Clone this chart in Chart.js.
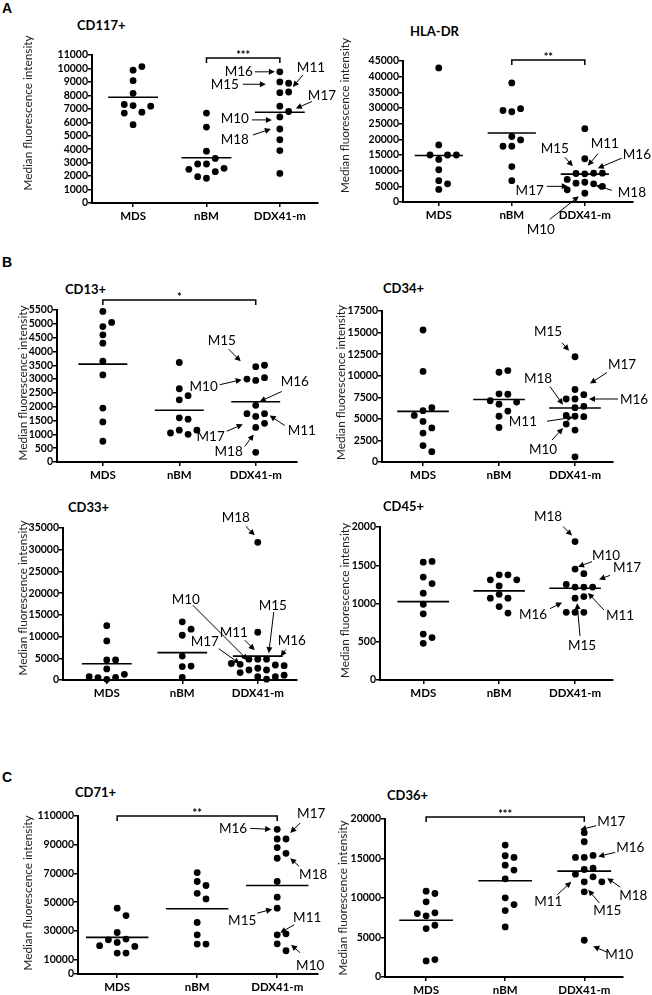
<!DOCTYPE html>
<html>
<head>
<meta charset="utf-8">
<script src="https://cdn.jsdelivr.net/npm/chart.js@4.4.1/dist/chart.umd.min.js"></script>
<style>
  body { margin: 0; background: #fff; }
  #page { position: relative; width: 652px; height: 995px; overflow: hidden; }
  #page canvas { position: absolute; }
  .letter { position: absolute; font: bold 14px "Liberation Sans", Arial, sans-serif; line-height: 16px; color: #000; }
  .ptitle { position: absolute; font: bold 13px Lato, sans-serif; line-height: 16px; color: #000; }
</style>
</head>
<body>
<div id="page">
  <div class="letter" style="left:2px;top:0px">A</div>
  <div class="letter" style="left:2px;top:254px">B</div>
  <div class="letter" style="left:2px;top:769px">C</div>
</div>
<script>
"use strict";

// Data
const groups = ["MDS", "nBM", "DDX41-m"];

const cd117Mds = [9870, 10140, 9090, 8150, 7240, 6750, 6680, 7200, 7320, 5820];
const cd117Nbm = [6680, 5640, 3850, 3310, 2900, 2900, 2330, 2580, 2500, 1840, 1960];
const cd117Ddx = [9750, 9000, 8200, 8250, 8900, 7200, 6800, 6400, 5500, 4700, 3900, 2200];
const cd117Means = [7860, 3360, 6750];
const cd117Ticks = [0, 1000, 2000, 3000, 4000, 5000, 6000, 7000, 8000, 9000, 10000, 11000];

const hlaMds = [42800, 18200, 13600, 15000, 15000, 15000, 10300, 6800, 4000, 5800];
const hlaNbm = [38000, 28800, 29800, 29200, 20900, 19800, 17800, 17800, 11300, 6800];
const hlaDdx = [23400, 13800, 9000, 9200, 9100, 9200, 7200, 6300, 5800, 6000, 5000, 3900, 2800];
const hlaMeans = [14850, 22000, 8900];
const hlaTicks = [0, 5000, 10000, 15000, 20000, 25000, 30000, 35000, 40000, 45000];

const cd13Mds = [5450, 4900, 5050, 4300, 4600, 3650, 3150, 1950, 1450, 750];
const cd13Nbm = [3600, 2650, 2400, 2250, 1600, 1550, 1150, 1000, 1050, 1150];
const cd13Ddx = [3450, 3500, 2950, 3050, 3000, 2050, 1650, 1750, 1750, 1400, 1250, 350];
const cd13Means = [3540, 1870, 2180];
const cd13Ticks = [0, 500, 1000, 1500, 2000, 2500, 3000, 3500, 4000, 4500, 5000, 5500];

const cd34Mds = [15300, 10500, 5950, 6300, 5400, 4700, 3950, 3350, 1900, 1200];
const cd34Nbm = [10400, 10600, 7900, 7850, 6700, 7100, 6950, 5900, 5300, 4000];
const cd34Ddx = [12200, 8400, 7800, 7300, 7300, 6450, 6300, 5300, 5250, 5400, 4400, 3700, 600];
const cd34Means = [5870, 7250, 6260];
const cd34Ticks = [0, 2500, 5000, 7500, 10000, 12500, 15000, 17500];

const cd33Mds = [12500, 9000, 2550, 4600, 4600, 150, 600, 550, 1300, 770];
const cd33Nbm = [13400, 11700, 10300, 5500, 3100, 3200, 600];
const cd33Ddx = [31700, 11000, 4800, 4800, 4800, 3450, 3600, 3300, 3800, 2700, 2300, 2300, 1700, 750, 750, 1100, 200];
const cd33Means = [3750, 6300, 5500];
const cd33Ticks = [0, 5000, 10000, 15000, 20000, 25000, 30000, 35000];

const cd45Mds = [1540, 1550, 1345, 1260, 1135, 990, 865, 600, 555, 480];
const cd45Nbm = [1375, 1375, 1310, 1310, 1230, 1120, 1070, 1070, 960, 875];
const cd45Ddx = [1810, 1450, 1390, 1215, 1215, 1250, 1215, 1070, 1090, 885, 885, 885];
const cd45Means = [1025, 1165, 1200];
const cd45Ticks = [0, 500, 1000, 1500, 2000];

const cd71Mds = [45800, 40700, 28900, 22000, 24300, 23800, 19200, 19700, 14600, 14600];
const cd71Nbm = [70600, 64400, 61600, 56200, 52300, 35900, 27300, 20800, 20800];
const cd71Ddx = [100700, 94000, 94000, 88000, 80600, 84000, 64400, 53500, 45800, 27300, 28000, 21000, 16200];
const cd71Means = [25500, 45400, 61600];
const cd71Ticks = [0, 10000, 30000, 50000, 70000, 90000, 110000];

const cd36Mds = [10870, 10570, 9510, 7740, 8120, 8030, 6130, 6550, 2030, 2200];
const cd36Nbm = [16700, 15350, 15140, 14160, 13530, 12430, 10020, 9170, 8410, 6340];
const cd36Ddx = [18270, 17120, 15140, 15390, 15140, 13610, 13780, 13020, 12680, 12050, 12050, 10780, 4650];
const cd36Means = [7190, 12180, 13400];
const cd36Ticks = [0, 5000, 10000, 15000, 20000];

// Callouts on the DDX41-m column: [label, anchor value, tail dx, dy, tip dx, dy, text dx, dy, align]
const cd117Callouts = [
    ["M16", 9750, -25, 0, -5, 0, -27, 0, "right"],
    ["M15", 8900, -37, 1, -14, 1, -41, 1, "right"],
    ["M11", 8250, 23, -17, 13, -5, 17, -24, "left"],
    ["M17", 6800, 32, -10, 16, -3, 28, -16, "left"],
    ["M10", 6400, -28, 3, -8, 3, -31, 2, "right"],
    ["M18", 5500, -27, 6, -9, 0, -31, 11, "right"]
];
const hlaCallouts = [
    ["M15", 9200, -20, -16, -12, -7, -30, -25, "center"],
    ["M11", 9000, 13, -20, 3, -8, 20, -30, "center"],
    ["M16", 9200, 37, -15, 13, -5, 38, -19, "left"],
    ["M17", 5000, -38, 0, -17, 0, -41, 4, "right"],
    ["M18", 5000, 27, 4, 11, -1, 33, 6, "left"],
    ["M10", 5000, -35, 33, -6, 10, -44, 43, "center"]
];
const cd13Callouts = [
    ["M15", 3500, -27, -16, -15, -4, -34, -25, "center"],
    ["M10", 3050, -36, 7, -14, 2, -38, 9, "right"],
    ["M16", 2080, 26, -13, 4, -3, 39, -23, "center"],
    ["M11", 1790, 29, 13, 14, 3, 32, 18, "left"],
    ["M17", 1400, -29, 8, -13, 1, -31, 13, "right"],
    ["M18", 1250, -11, 19, -2, 7, -13, 24, "right"]
];
const cd34Callouts = [
    ["M15", 12200, -13, -14, -6, -6, -27, -25, "center"],
    ["M17", 8400, 32, -17, 15, -6, 47, -25, "center"],
    ["M18", 6300, -25, -21, -12, -3, -37, -29, "center"],
    ["M16", 7300, 43, 0, 14, 0, 45, 1, "left"],
    ["M11", 5300, -28, 5, -2, 1, -38, 5, "right"],
    ["M10", 4400, -23, 16, -12, 4, -32, 26, "center"]
];
const cd33Callouts = [
    ["M18", 31700, -12, -16, -3, -7, -22, -25, "center"],
    ["M10", 4800, -65, -54, -10, 1, -72, -60, "center"],
    ["M15", 4800, 16, -47, 11, -6, 15, -54, "center"],
    ["M11", 4800, -13, -19, -3, -9, -24, -27, "center"],
    ["M17", 3300, -39, -17, -18, -2, -53, -24, "center"],
    ["M16", 3800, 28, -14, 23, -7, 34, -23, "center"]
];
const cd45Callouts = [
    ["M18", 1810, -12, -15, -3, -6, -27, -25, "center"],
    ["M10", 1390, 17, -12, 3, -7, 31, -18, "center"],
    ["M17", 1250, 35, -9, 24, -5, 52, -17, "center"],
    ["M11", 1215, 29, 23, 13, 6, 45, 29, "center"],
    ["M16", 1090, -25, 12, -13, 6, -42, 18, "center"],
    ["M15", 1070, 5, 38, 2, 5, 7, 47, "center"]
];
const cd71Callouts = [
    ["M16", 100700, -27, -1, -6, 0, -30, -1, "right"],
    ["M17", 94000, 23, -16, 13, -6, 34, -25, "center"],
    ["M18", 84000, 22, 13, 13, 5, 36, 21, "center"],
    ["M15", 45800, -20, 5, -5, 1, -35, 12, "center"],
    ["M11", 27300, 17, -10, 3, -2, 30, -17, "center"],
    ["M10", 21000, 23, 9, 14, 1, 33, 22, "center"]
];
const cd36Callouts = [
    ["M17", 18270, 12, -7, -4, -3, 13, -11, "left"],
    ["M16", 15140, 31, -5, 14, -1, 46, -10, "center"],
    ["M11", 12680, -27, 18, -13, 5, -36, 25, "center"],
    ["M18", 13020, 36, 13, 23, 4, 49, 21, "center"],
    ["M15", 10780, 15, 11, 4, -2, 23, 19, "center"],
    ["M10", 4650, 23, 12, 9, 6, 35, 14, "center"]
];

// Panel layout: area = chart area [l, t, r, b], box = canvas [l, t, r, b] (page px)
const panels = [
    { title: "CD117+", tpos: [77, 25], area: [92, 55, 318, 203], box: [20, 0, 350, 240], xr: [-0.56, 2.52], yTitleX: 28, yShift: -16,
      sets: [cd117Mds, cd117Nbm, cd117Ddx], means: cd117Means, ticks: cd117Ticks, half: 0.34, callouts: cd117Callouts, bracket: [1, 2, "***", 3] },
    { title: "HLA-DR", tpos: [410, 31], area: [403, 61, 633, 202], box: [337, 0, 652, 245], xr: [-0.49, 2.66], yTitleX: 345, yShift: -16,
      sets: [hlaMds, hlaNbm, hlaDdx], means: hlaMeans, ticks: hlaTicks, half: 0.33, callouts: hlaCallouts, bracket: [1, 2, "**", -1] },
    { title: "CD13+", tpos: [65, 289], area: [57, 310, 297, 462], box: [15, 255, 330, 490], xr: [-0.6, 2.54], yTitleX: 23, yShift: -3,
      sets: [cd13Mds, cd13Nbm, cd13Ddx], means: cd13Means, ticks: cd13Ticks, half: 0.32, callouts: cd13Callouts, bracket: [0, 2, "*", -10] },
    { title: "CD34+", tpos: [383, 288], area: [382, 311, 613, 462], box: [332, 255, 652, 490], xr: [-0.54, 2.5], yTitleX: 341, yShift: -4,
      sets: [cd34Mds, cd34Nbm, cd34Ddx], means: cd34Means, ticks: cd34Ticks, half: 0.34, callouts: cd34Callouts, bracket: null },
    { title: "CD33+", tpos: [68, 507], area: [63, 528, 297, 680], box: [15, 495, 330, 710], xr: [-0.58, 2.52], yTitleX: 23, yShift: -6,
      sets: [cd33Mds, cd33Nbm, cd33Ddx], means: cd33Means, ticks: cd33Ticks, half: 0.33, callouts: cd33Callouts, bracket: null },
    { title: "CD45+", tpos: [383, 506], area: [380, 527, 613, 680], box: [337, 495, 652, 710], xr: [-0.57, 2.5], yTitleX: 345, yShift: -3,
      sets: [cd45Mds, cd45Nbm, cd45Ddx], means: cd45Means, ticks: cd45Ticks, half: 0.34, callouts: cd45Callouts, bracket: null },
    { title: "CD71+", tpos: [75, 792], area: [78, 816, 318, 974], box: [20, 770, 345, 995], xr: [-0.49, 2.51], yTitleX: 28, yShift: -2,
      sets: [cd71Mds, cd71Nbm, cd71Ddx], means: cd71Means, ticks: cd71Ticks, half: 0.39, callouts: cd71Callouts, bracket: [0, 2, "**", 0] },
    { title: "CD36+", tpos: [387, 795], area: [385, 819, 623, 977], box: [335, 770, 652, 995], xr: [-0.52, 2.49], yTitleX: 343, yShift: 0,
      sets: [cd36Mds, cd36Nbm, cd36Ddx], means: cd36Means, ticks: cd36Ticks, half: 0.34, callouts: cd36Callouts, bracket: [0, 2, "***", -2] }
];

const STEP = 8.8;   // horizontal slot between dots, px
const GAP = 8;      // vertical distance below which two dots collide, px

Chart.defaults.font.family = "Lato, sans-serif";
Chart.defaults.color = "#000";

function drawArrow(ctx, x1, y1, x2, y2) {
    const a = Math.atan2(y2 - y1, x2 - x1);
    const len = 6, w = 3;
    ctx.beginPath();
    ctx.moveTo(x1, y1);
    ctx.lineTo(x2 - Math.cos(a) * len * 0.8, y2 - Math.sin(a) * len * 0.8);
    ctx.stroke();
    ctx.beginPath();
    ctx.moveTo(x2, y2);
    ctx.lineTo(x2 - Math.cos(a) * len + Math.sin(a) * w, y2 - Math.sin(a) * len - Math.cos(a) * w);
    ctx.lineTo(x2 - Math.cos(a) * len - Math.sin(a) * w, y2 - Math.sin(a) * len + Math.cos(a) * w);
    ctx.closePath();
    ctx.fill();
}

// Decorations: y title, significance bracket, callout arrows
const decor = {
    id: "decor",
    afterDatasetsDraw(chart, args, opts) {
        const p = opts.panel;
        const ctx = chart.ctx;
        const xs = chart.scales.x, ys = chart.scales.y;
        const area = chart.chartArea;

        ctx.save();
        ctx.fillStyle = "#222";
        ctx.translate(p.yTitleX - p.box[0], (area.top + area.bottom) / 2 + p.yShift);
        ctx.rotate(-Math.PI / 2);
        ctx.font = "11.8px Lato";
        ctx.textAlign = "center";
        ctx.textBaseline = "middle";
        ctx.fillText("Median fluorescence intensity", 0, 0);
        ctx.restore();

        ctx.save();
        ctx.strokeStyle = "#000";
        ctx.fillStyle = "#000";
        if (p.bracket) {
            const [g1, g2, stars, dy] = p.bracket;
            const x1 = xs.getPixelForValue(g1), x2 = xs.getPixelForValue(g2);
            const y = area.top + dy;
            ctx.lineWidth = 1.5;
            ctx.beginPath();
            ctx.moveTo(x1, y + 5);
            ctx.lineTo(x1, y);
            ctx.lineTo(x2, y);
            ctx.lineTo(x2, y + 5);
            ctx.stroke();
            ctx.font = "bold 11px Lato";
            ctx.textAlign = "center";
            ctx.textBaseline = "alphabetic";
            ctx.fillText(stars, (x1 + x2) / 2, y + 1);
        }

        const cx = xs.getPixelForValue(2);
        ctx.lineWidth = 1;
        p.callouts.forEach(([text, v, tx, ty, hx, hy, lx, ly, align]) => {
            const y0 = ys.getPixelForValue(v);
            drawArrow(ctx, cx + tx, y0 + ty, cx + hx, y0 + hy);
            ctx.font = "13.5px Lato";
            ctx.textAlign = align;
            ctx.textBaseline = "middle";
            ctx.fillText(text, cx + lx, y0 + ly);
        });
        ctx.restore();
    }
};

// Spread dots of equal height sideways, in the order they are listed
function swarm(chart) {
    const xs = chart.scales.x, ys = chart.scales.y;
    const unit = xs.getPixelForValue(1) - xs.getPixelForValue(0);
    chart.data.datasets.forEach(ds => {
        if (!ds.isDots) return;
        const placed = [];
        ds.data.forEach(pt => {
            const py = ys.getPixelForValue(pt.y);
            for (const k of [0, 1, -1, 2, -2, 3, -3, 4, -4]) {
                if (!placed.some(q => q.k === k && Math.abs(q.py - py) < GAP)) {
                    placed.push({ k: k, py: py });
                    pt.x = pt.g + k * STEP / unit;
                    break;
                }
            }
        });
    });
    chart.update("none");
}

const page = document.getElementById("page");

panels.forEach(p => {
    const [L, T, R, B] = p.box;
    const [l, t, r, b] = p.area;

    const title = document.createElement("div");
    title.className = "ptitle";
    title.style.left = p.tpos[0] + "px";
    title.style.top = (p.tpos[1] - 8) + "px";
    title.textContent = p.title;
    page.appendChild(title);

    const canvas = document.createElement("canvas");
    canvas.width = R - L;
    canvas.height = B - T;
    canvas.style.left = L + "px";
    canvas.style.top = T + "px";
    canvas.style.width = (R - L) + "px";
    canvas.style.height = (B - T) + "px";
    page.appendChild(canvas);

    const datasets = [];
    p.sets.forEach((vals, g) => {
        datasets.push({
            type: "scatter",
            isDots: true,
            data: vals.map(v => ({ x: g, y: v, g: g })),
            pointRadius: 3.4,
            pointHoverRadius: 3.4,
            backgroundColor: "#000",
            borderWidth: 0,
            clip: false
        });
    });
    p.means.forEach((m, g) => {
        datasets.push({
            type: "line",
            data: [{ x: g - p.half, y: m }, { x: g + p.half, y: m }],
            borderColor: "#000",
            borderWidth: 1.6,
            pointRadius: 0,
            clip: false
        });
    });

    const yTicks = p.ticks;
    const chart = new Chart(canvas, {
        type: "scatter",
        data: { datasets: datasets },
        options: {
            responsive: false,
            animation: false,
            events: [],
            layout: { padding: { top: t - T, right: R - r, left: 0, bottom: 0 } },
            plugins: {
                legend: { display: false },
                tooltip: { enabled: false },
                decor: { panel: p }
            },
            scales: {
                x: {
                    type: "linear",
                    min: p.xr[0],
                    max: p.xr[1],
                    afterBuildTicks: s => { s.ticks = [0, 1, 2].map(v => ({ value: v })); },
                    afterFit: s => { s.height = B - b; },
                    ticks: {
                        callback: v => groups[v],
                        font: { size: 11.5, weight: "bold" },
                        padding: 2,
                        maxRotation: 0,
                        autoSkip: false
                    },
                    grid: { drawOnChartArea: false, tickLength: 4, color: "#000", lineWidth: 1.5 },
                    border: { color: "#000", width: 2 }
                },
                y: {
                    min: 0,
                    max: yTicks[yTicks.length - 1],
                    afterBuildTicks: s => { s.ticks = yTicks.map(v => ({ value: v })); },
                    afterFit: s => { s.width = l - L; },
                    ticks: {
                        callback: v => String(v),
                        font: { size: 10.5, weight: "bold" },
                        padding: 0,
                        autoSkip: false
                    },
                    grid: { drawOnChartArea: false, tickLength: 4, color: "#000", lineWidth: 1.5 },
                    border: { color: "#000", width: 2 }
                }
            }
        },
        plugins: [decor]
    });
    swarm(chart);
});
</script>
</body>
</html>
